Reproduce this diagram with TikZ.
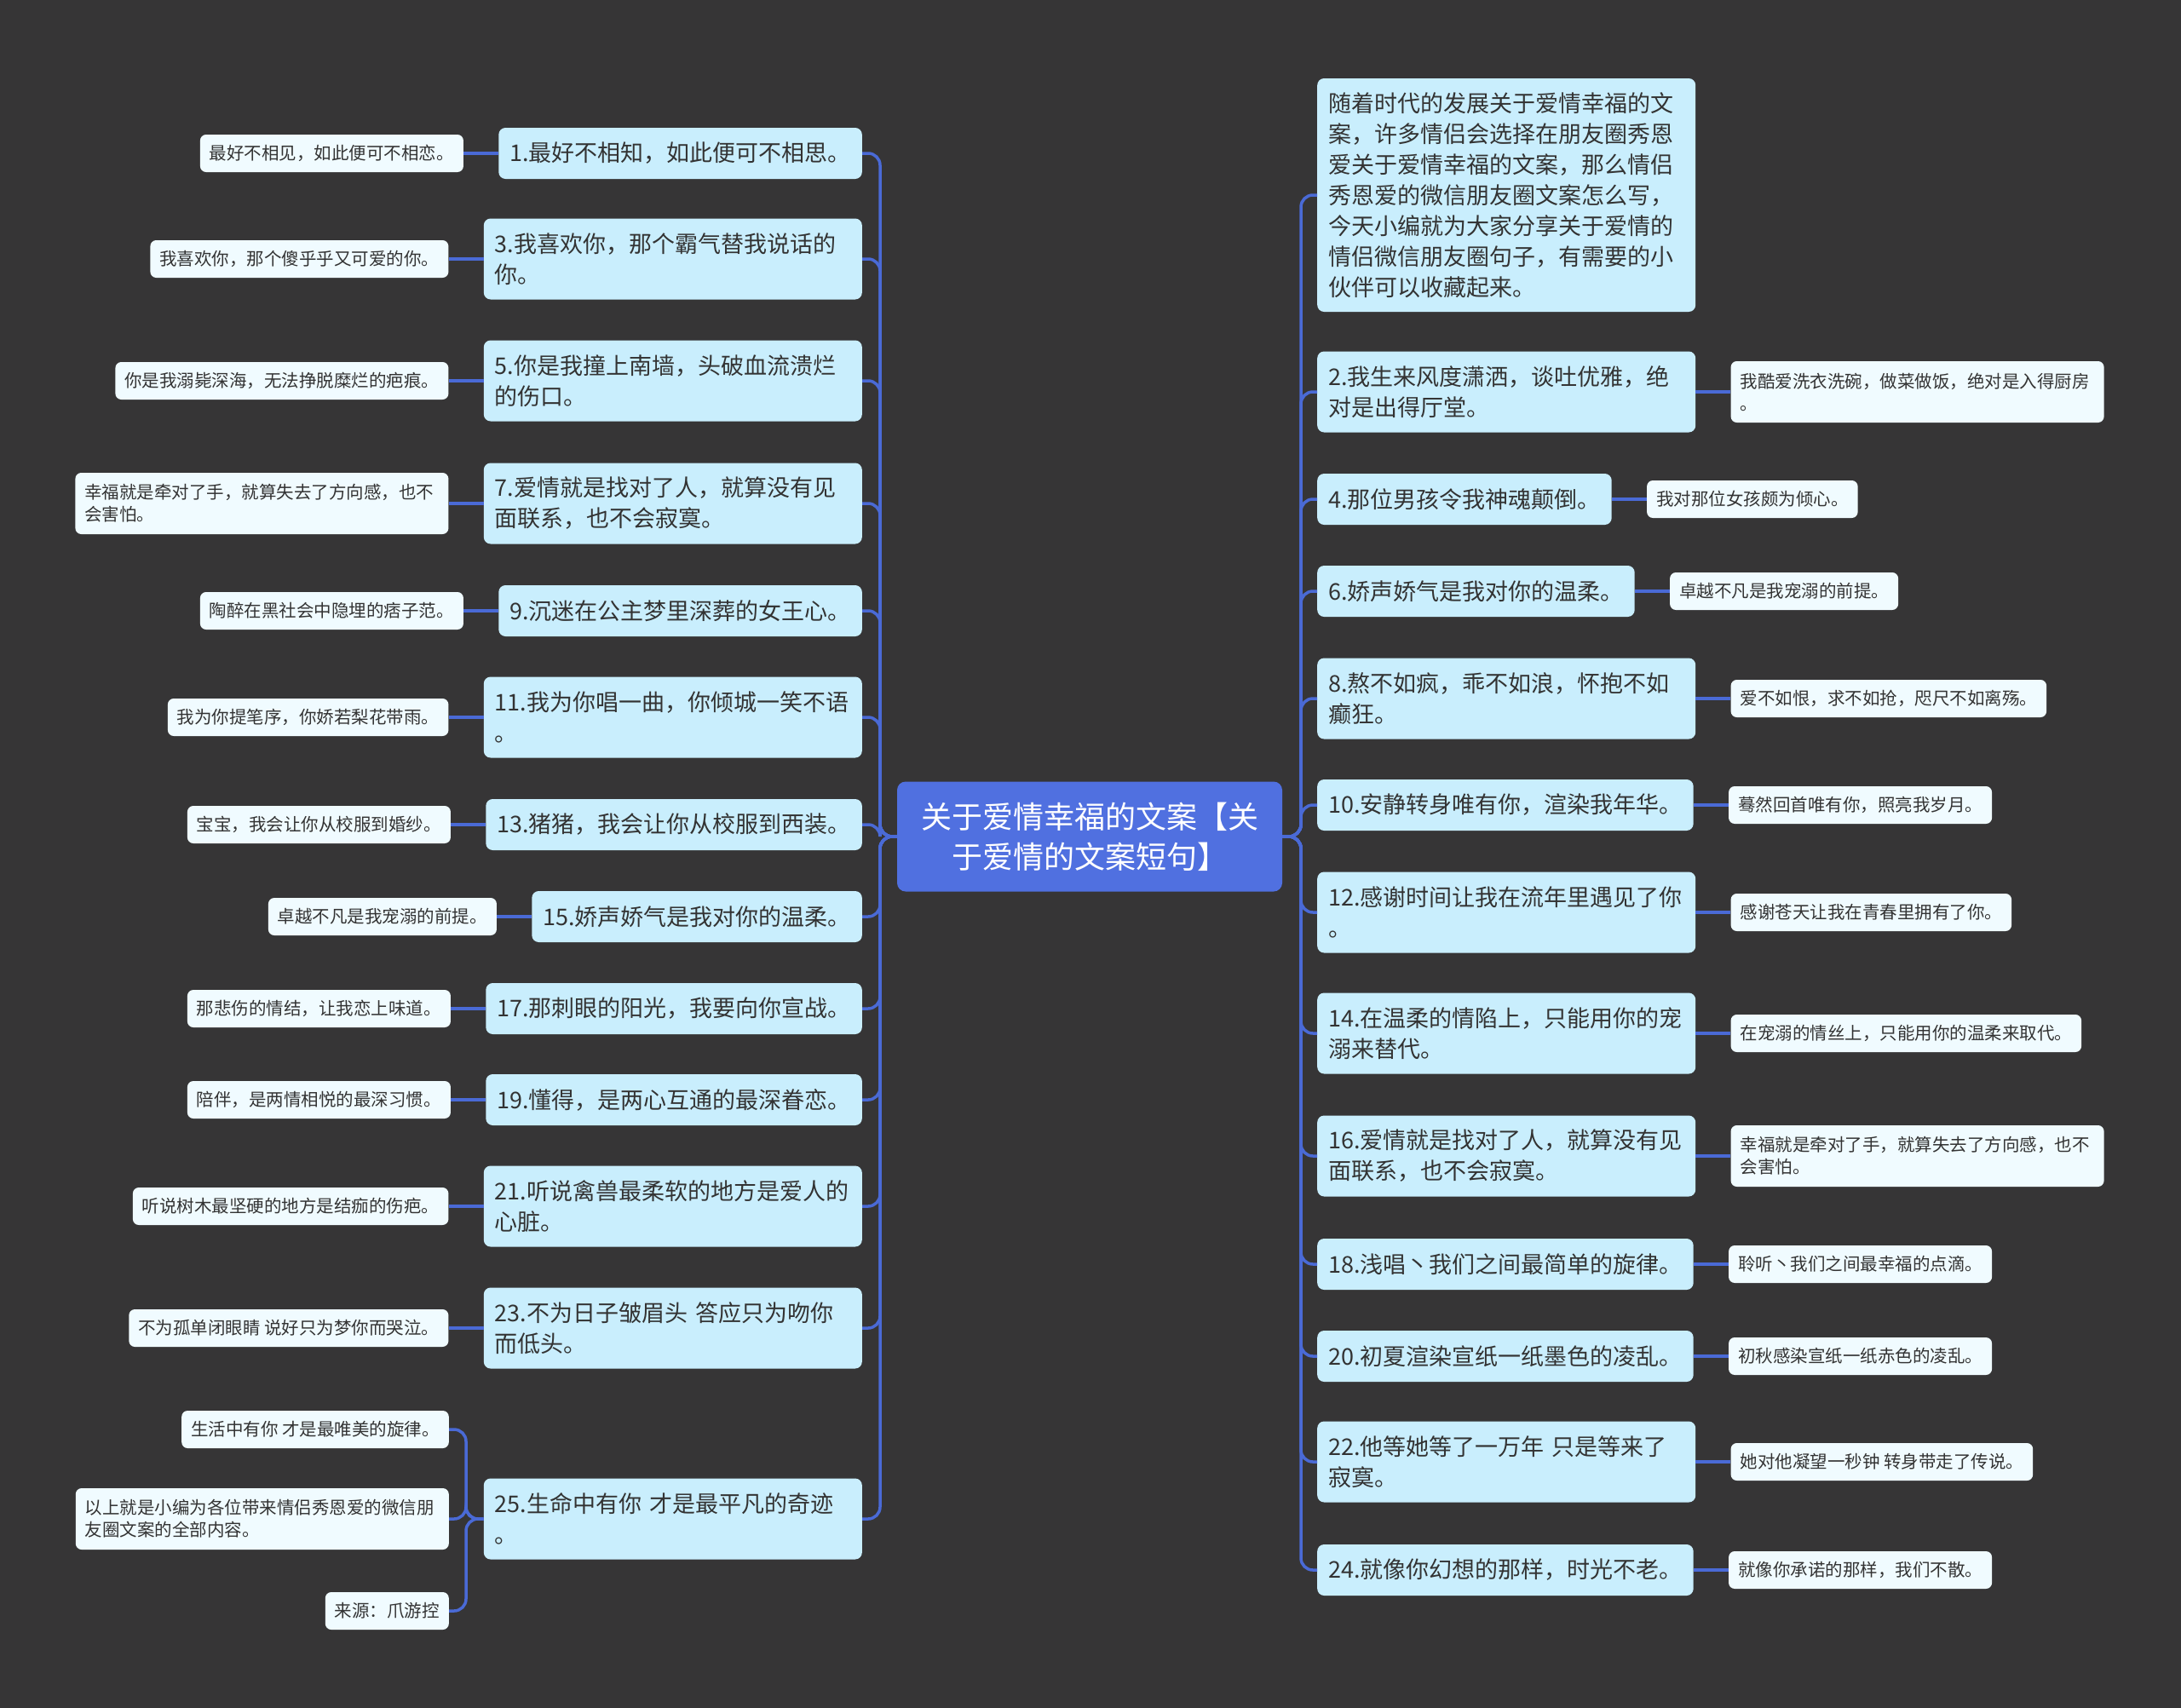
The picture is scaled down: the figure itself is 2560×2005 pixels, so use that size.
\documentclass[tikz,border=0pt]{standalone}
\usepackage{fontspec}
\setmainfont{Noto Sans CJK SC}
\definecolor{bgc}{HTML}{363536}
\definecolor{linec}{HTML}{4A6AD6}
\definecolor{cenc}{HTML}{5070E0}
\definecolor{lonec}{HTML}{C9EEFD}
\definecolor{ltwoc}{HTML}{F0FBFF}
\definecolor{txtc}{HTML}{333333}
\begin{document}
\begin{tikzpicture}[x=1pt,y=-1pt,
  conn/.style={draw=linec, line width=3.5pt, rounded corners=14pt},
  lone/.style={fill=lonec, rounded corners=8pt, inner xsep=13pt, inner ysep=0pt, minimum height=60pt, font=\fontsize{27}{36}\selectfont, text=txtc, align=left},
  ltwo/.style={lone, minimum height=95pt, text width=418pt},
  sone/.style={fill=ltwoc, rounded corners=7pt, inner xsep=11pt, inner ysep=0pt, minimum height=44pt, font=\fontsize{20.5}{26}\selectfont, text=txtc, align=left},
  stwo/.style={sone, minimum height=72pt, text width=416pt},
  cen/.style={fill=cenc, rounded corners=10pt, minimum width=452pt, minimum height=129pt, font=\fontsize{36}{47}\selectfont, text=white, align=center, inner sep=0pt}
]
\fill[bgc] (0,0) rectangle (2560,2005);
\useasboundingbox (0,0) rectangle (2560,2005);

\node[cen] (C) at (1279,982) {关于爱情幸福的文案【关\\于爱情的文案短句】};
\coordinate (LT) at (1033,982);
\coordinate (RT) at (1527,982);

% left level 1
\node[lone, anchor=east] (L1) at (1012,180) {1.最好不相知，如此便可不相思。};
\node[ltwo, anchor=east] (L3) at (1012,304) {3.我喜欢你，那个霸气替我说话的\\你。};
\node[ltwo, anchor=east] (L5) at (1012,447) {5.你是我撞上南墙，头破血流溃烂\\的伤口。};
\node[ltwo, anchor=east] (L7) at (1012,591) {7.爱情就是找对了人，就算没有见\\面联系，也不会寂寞。};
\node[lone, anchor=east] (L9) at (1012,717) {9.沉迷在公主梦里深葬的女王心。};
\node[ltwo, anchor=east] (L11) at (1012,842) {11.我为你唱一曲，你倾城一笑不语\\。};
\node[lone, anchor=east] (L13) at (1012,968) {13.猪猪，我会让你从校服到西装。};
\node[lone, anchor=east] (L15) at (1012,1076) {15.娇声娇气是我对你的温柔。};
\node[lone, anchor=east] (L17) at (1012,1184) {17.那刺眼的阳光，我要向你宣战。};
\node[lone, anchor=east] (L19) at (1012,1291) {19.懂得，是两心互通的最深眷恋。};
\node[ltwo, anchor=east] (L21) at (1012,1416) {21.听说禽兽最柔软的地方是爱人的\\心脏。};
\node[ltwo, anchor=east] (L23) at (1012,1559) {23.不为日子皱眉头 答应只为吻你\\而低头。};
\node[ltwo, anchor=east] (L25) at (1012,1783) {25.生命中有你 才是最平凡的奇迹\\。};

% left level 2
\node[sone, anchor=east] (A1) at ([xshift=-41pt]L1.west) {最好不相见，如此便可不相恋。};
\node[sone, anchor=east] (A3) at ([xshift=-41pt]L3.west) {我喜欢你，那个傻乎乎又可爱的你。};
\node[sone, anchor=east] (A5) at ([xshift=-41pt]L5.west) {你是我溺毙深海，无法挣脱糜烂的疤痕。};
\node[stwo, anchor=east] (A7) at ([xshift=-41pt]L7.west) {幸福就是牵对了手，就算失去了方向感，也不\\会害怕。};
\node[sone, anchor=east] (A9) at ([xshift=-41pt]L9.west) {陶醉在黑社会中隐埋的痞子范。};
\node[sone, anchor=east] (A11) at ([xshift=-41pt]L11.west) {我为你提笔序，你娇若梨花带雨。};
\node[sone, anchor=east] (A13) at ([xshift=-41pt]L13.west) {宝宝，我会让你从校服到婚纱。};
\node[sone, anchor=east] (A15) at ([xshift=-41pt]L15.west) {卓越不凡是我宠溺的前提。};
\node[sone, anchor=east] (A17) at ([xshift=-41pt]L17.west) {那悲伤的情结，让我恋上味道。};
\node[sone, anchor=east] (A19) at ([xshift=-41pt]L19.west) {陪伴，是两情相悦的最深习惯。};
\node[sone, anchor=east] (A21) at ([xshift=-41pt]L21.west) {听说树木最坚硬的地方是结痂的伤疤。};
\node[sone, anchor=east] (A23) at ([xshift=-41pt]L23.west) {不为孤单闭眼睛 说好只为梦你而哭泣。};
\node[sone, anchor=east] (A25a) at (527,1678) {生活中有你 才是最唯美的旋律。};
\node[stwo, anchor=east] (A25b) at (527,1783) {以上就是小编为各位带来情侣秀恩爱的微信朋\\友圈文案的全部内容。};
\node[sone, anchor=east] (A25c) at (527,1891) {来源：爪游控};
\coordinate (B25) at (547,1783);

% right level 1
\node[lone, anchor=west, minimum height=274pt, text width=418pt] (R0) at (1546,229) {随着时代的发展关于爱情幸福的文\\案，许多情侣会选择在朋友圈秀恩\\爱关于爱情幸福的文案，那么情侣\\秀恩爱的微信朋友圈文案怎么写，\\今天小编就为大家分享关于爱情的\\情侣微信朋友圈句子，有需要的小\\伙伴可以收藏起来。};
\node[ltwo, anchor=west] (R2) at (1546,460) {2.我生来风度潇洒，谈吐优雅，绝\\对是出得厅堂。};
\node[lone, anchor=west] (R4) at (1546,586) {4.那位男孩令我神魂颠倒。};
\node[lone, anchor=west] (R6) at (1546,694) {6.娇声娇气是我对你的温柔。};
\node[ltwo, anchor=west] (R8) at (1546,820) {8.熬不如疯，乖不如浪，怀抱不如\\癫狂。};
\node[lone, anchor=west] (R10) at (1546,945) {10.安静转身唯有你，渲染我年华。};
\node[ltwo, anchor=west] (R12) at (1546,1071) {12.感谢时间让我在流年里遇见了你\\。};
\node[ltwo, anchor=west] (R14) at (1546,1213) {14.在温柔的情陷上，只能用你的宠\\溺来替代。};
\node[ltwo, anchor=west] (R16) at (1546,1357) {16.爱情就是找对了人，就算没有见\\面联系，也不会寂寞。};
\node[lone, anchor=west] (R18) at (1546,1484) {18.浅唱丶我们之间最简单的旋律。};
\node[lone, anchor=west] (R20) at (1546,1592) {20.初夏渲染宣纸一纸墨色的凌乱。};
\node[ltwo, anchor=west] (R22) at (1546,1716) {22.他等她等了一万年 只是等来了\\寂寞。};
\node[lone, anchor=west] (R24) at (1546,1843) {24.就像你幻想的那样，时光不老。};

% right level 2
\node[stwo, anchor=west] (B2) at ([xshift=41pt]R2.east) {我酷爱洗衣洗碗，做菜做饭，绝对是入得厨房\\。};
\node[sone, anchor=west] (B4) at ([xshift=41pt]R4.east) {我对那位女孩颇为倾心。};
\node[sone, anchor=west] (B6) at ([xshift=41pt]R6.east) {卓越不凡是我宠溺的前提。};
\node[sone, anchor=west] (B8) at ([xshift=41pt]R8.east) {爱不如恨，求不如抢，咫尺不如离殇。};
\node[sone, anchor=west] (B10) at ([xshift=41pt]R10.east) {蓦然回首唯有你，照亮我岁月。};
\node[sone, anchor=west] (B12) at ([xshift=41pt]R12.east) {感谢苍天让我在青春里拥有了你。};
\node[sone, anchor=west] (B14) at ([xshift=41pt]R14.east) {在宠溺的情丝上，只能用你的温柔来取代。};
\node[stwo, anchor=west] (B16) at ([xshift=41pt]R16.east) {幸福就是牵对了手，就算失去了方向感，也不\\会害怕。};
\node[sone, anchor=west] (B18) at ([xshift=41pt]R18.east) {聆听丶我们之间最幸福的点滴。};
\node[sone, anchor=west] (B20) at ([xshift=41pt]R20.east) {初秋感染宣纸一纸赤色的凌乱。};
\node[sone, anchor=west] (B22) at ([xshift=41pt]R22.east) {她对他凝望一秒钟 转身带走了传说。};
\node[sone, anchor=west] (B24) at ([xshift=41pt]R24.east) {就像你承诺的那样，我们不散。};

% connectors
\foreach \n in {L1,L3,L5,L7,L9,L11,L13,L15,L17,L19,L21,L23,L25}
  \draw[conn] (C.west) -- (LT) |- (\n.east);
\foreach \n in {R0,R2,R4,R6,R8,R10,R12,R14,R16,R18,R20,R22,R24}
  \draw[conn] (C.east) -- (RT) |- (\n.west);
\foreach \a/\b in {L1/A1,L3/A3,L5/A5,L7/A7,L9/A9,L11/A11,L13/A13,L15/A15,L17/A17,L19/A19,L21/A21,L23/A23}
  \draw[conn] (\a.west) -- (\b.east);
\foreach \a/\b in {R2/B2,R4/B4,R6/B6,R8/B8,R10/B10,R12/B12,R14/B14,R16/B16,R18/B18,R20/B20,R22/B22,R24/B24}
  \draw[conn] (\a.east) -- (\b.west);
\foreach \b in {A25a,A25b,A25c}
  \draw[conn] (L25.west) -- (B25) |- (\b.east);
\end{tikzpicture}
\end{document}
